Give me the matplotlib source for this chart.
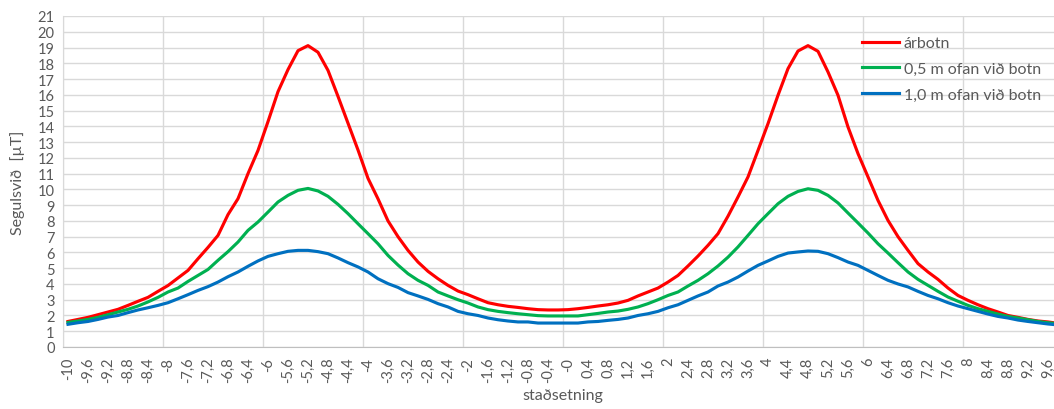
import matplotlib
matplotlib.use("Agg")
import matplotlib.pyplot as plt
import numpy as np

# Staðsetning (flokkar á x-ás), skref 0,2
stadsetning = np.round(np.arange(-10, 10, 0.2), 1)

# Segulsvið [µT] - árbotn
arbotn = [1.62, 1.75, 1.88, 2.05, 2.22, 2.39, 2.64, 2.90, 3.15, 3.53,
          3.90, 4.38, 4.86, 5.60, 6.32, 7.08, 8.40, 9.41, 11.0, 12.47,
          14.30, 16.20, 17.60, 18.80, 19.12, 18.70, 17.55, 15.90, 14.20, 12.50,
          10.70, 9.40, 8.00, 7.00, 6.13, 5.39, 4.80, 4.33, 3.91, 3.55,
          3.32, 3.06, 2.81, 2.68, 2.58, 2.51, 2.43, 2.37, 2.35, 2.35,
          2.37, 2.43, 2.51, 2.60, 2.68, 2.79, 2.96, 3.24, 3.49, 3.74,
          4.12, 4.54, 5.14, 5.77, 6.45, 7.19, 8.30, 9.52, 10.79, 12.47,
          14.17, 15.97, 17.66, 18.78, 19.12, 18.76, 17.45, 15.97, 13.96, 12.27,
          10.79, 9.30, 8.03, 7.00, 6.13, 5.29, 4.76, 4.29, 3.74, 3.27,
          2.96, 2.68, 2.43, 2.22, 2.00, 1.88, 1.75, 1.65, 1.59, 1.50]

# 0,5 m ofan við botn
ofan_05 = [1.56, 1.65, 1.75, 1.88, 2.05, 2.22, 2.39, 2.60, 2.86, 3.15,
           3.49, 3.74, 4.16, 4.54, 4.92, 5.50, 6.05, 6.66, 7.40, 7.93,
           8.56, 9.20, 9.62, 9.94, 10.06, 9.90, 9.56, 9.05, 8.46, 7.82,
           7.19, 6.55, 5.81, 5.20, 4.65, 4.23, 3.91, 3.49, 3.24, 3.00,
           2.79, 2.54, 2.37, 2.26, 2.18, 2.11, 2.05, 1.99, 1.97, 1.97,
           1.97, 1.97, 2.05, 2.13, 2.22, 2.28, 2.39, 2.54, 2.75, 3.00,
           3.27, 3.49, 3.87, 4.23, 4.65, 5.14, 5.70, 6.35, 7.08, 7.82,
           8.46, 9.09, 9.56, 9.87, 10.04, 9.94, 9.62, 9.14, 8.50, 7.87,
           7.23, 6.55, 5.96, 5.35, 4.76, 4.29, 3.91, 3.53, 3.17, 2.90,
           2.64, 2.43, 2.26, 2.09, 1.94, 1.84, 1.73, 1.62, 1.54, 1.48]

# 1,0 m ofan við botn
ofan_10 = [1.44, 1.54, 1.62, 1.75, 1.90, 2.00, 2.18, 2.35, 2.49, 2.64,
           2.81, 3.06, 3.32, 3.59, 3.83, 4.12, 4.46, 4.76, 5.12, 5.46,
           5.75, 5.92, 6.07, 6.13, 6.13, 6.05, 5.92, 5.65, 5.35, 5.08,
           4.76, 4.33, 4.02, 3.78, 3.45, 3.24, 3.02, 2.75, 2.54, 2.26,
           2.11, 2.00, 1.84, 1.73, 1.65, 1.59, 1.59, 1.52, 1.52, 1.52,
           1.52, 1.52, 1.59, 1.62, 1.69, 1.75, 1.84, 2.00, 2.11, 2.26,
           2.49, 2.68, 2.96, 3.24, 3.49, 3.87, 4.12, 4.44, 4.82, 5.18,
           5.46, 5.75, 5.96, 6.03, 6.09, 6.07, 5.92, 5.67, 5.39, 5.18,
           4.86, 4.54, 4.23, 4.00, 3.81, 3.53, 3.27, 3.06, 2.81, 2.60,
           2.43, 2.26, 2.09, 1.94, 1.84, 1.71, 1.62, 1.54, 1.46, 1.40]

# Merki á x-ás: annar hver flokkur, með kommu
merki = [("%g" % v).replace(".", ",") for v in stadsetning[::2]]

plt.rcParams["font.family"] = ["Lato", "DejaVu Sans"]
grar = "#595959"

fig = plt.figure(figsize=(10.54, 4.10), dpi=100)
ax = fig.add_axes([63 / 1054, 62 / 410, 1000 / 1054, 331 / 410])

# Línurnar
idx = np.arange(len(stadsetning))
ax.plot(idx, arbotn, color="#FF0000", lw=2.25, label="árbotn", zorder=3)
ax.plot(idx, ofan_05, color="#00B050", lw=2.25, label="0,5 m ofan við botn", zorder=3)
ax.plot(idx, ofan_10, color="#0070C0", lw=2.25, label="1,0 m ofan við botn", zorder=3)

# Ásar og hnitanet
ax.set_xlim(-0.5, len(stadsetning) - 0.5)
ax.set_ylim(0, 21)
ax.set_yticks(range(0, 22))
ax.set_xticks(idx[::2])
ax.set_xticklabels(merki, rotation=90)
ax.set_xticks(np.arange(-0.5, len(stadsetning), 10), minor=True)
ax.grid(axis="y", which="major", color="#D9D9D9", lw=1)
ax.grid(axis="x", which="minor", color="#D9D9D9", lw=1)
ax.tick_params(axis="both", which="both", length=0, labelsize=10.5, colors=grar)
ax.tick_params(axis="x", pad=7)
ax.tick_params(axis="y", pad=6)
for s in ["top", "right"]:
    ax.spines[s].set_visible(False)
ax.spines["left"].set_color("#D9D9D9")
ax.spines["bottom"].set_color("#BFBFBF")
ax.set_axisbelow(True)

# Titlar ása
ax.set_xlabel("staðsetning", fontsize=11.5, color=grar, labelpad=4)
ax.set_ylabel("Segulsvið  [µT]", fontsize=11.5, color=grar, labelpad=9)

# Skýringar
fig.legend(loc="upper left", bbox_to_anchor=(862 / 1054, 1 - 37 / 410),
           frameon=False, fontsize=11.5, labelcolor=grar, handlelength=2.3,
           handletextpad=0.3, labelspacing=0.72, borderpad=0, borderaxespad=0)

fig.savefig("out.png", dpi=100)
